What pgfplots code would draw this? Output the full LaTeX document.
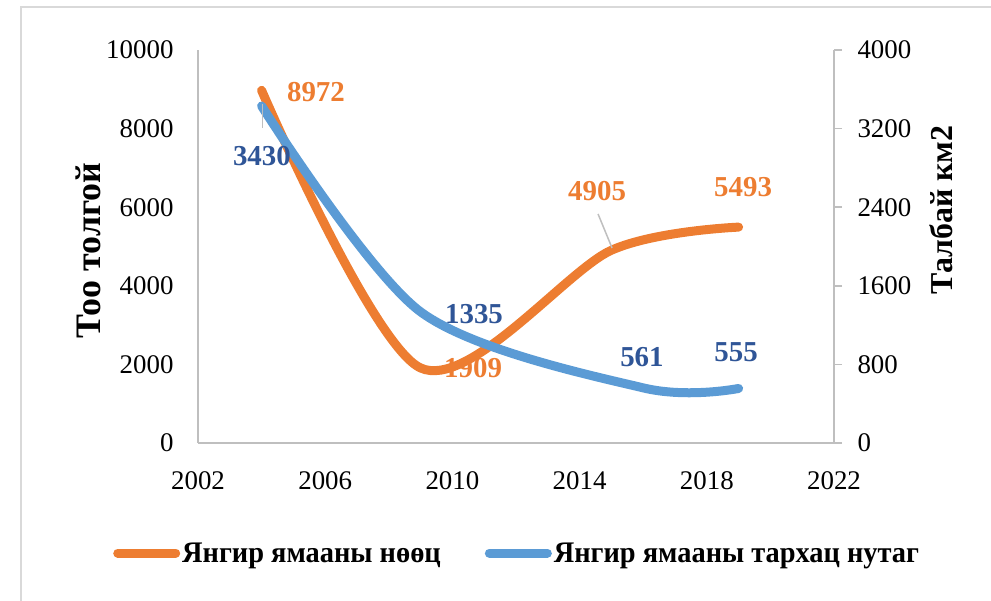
\documentclass[border=0pt]{standalone}
\usepackage{pgfplots}
\pgfplotsset{compat=1.18}
\usepackage{fontspec}
\setmainfont{Liberation Serif}
\usepackage{graphicx}
\definecolor{orng}{HTML}{ED7D31}
\definecolor{blu}{HTML}{5B9BD5}
\definecolor{dblu}{HTML}{2F5597}
\definecolor{axgray}{HTML}{BFBFBF}
\definecolor{frgray}{HTML}{D9D9D9}
\newcommand{\tickfont}{\fontsize{27}{30}\selectfont}
\newcommand{\lblfont}{\fontsize{29}{32}\selectfont\bfseries}
\newcommand{\titfontL}{\fontsize{36}{40}\selectfont\bfseries}
\newcommand{\titfontR}{\fontsize{32}{36}\selectfont\bfseries}
\newcommand{\legfont}{\fontsize{30}{34}\selectfont\bfseries}
\begin{document}
\begin{tikzpicture}[x=1bp,y=1bp]
\useasboundingbox (0,0) rectangle (991,601);
\draw[frgray, line width=2bp] (21,0) -- (21,594) -- (991,594);
\begin{axis}[
  at={(198bp,158bp)}, anchor=origin,
  scale only axis, width=636bp, height=393bp,
  xmin=2002, xmax=2022, ymin=0, ymax=10000,
  xtick={2002,2006,2010,2014,2018,2022},
  ytick={0,2000,4000,6000,8000,10000},
  axis x line*=bottom, axis y line*=left,
  axis line style={axgray, line width=1.5bp, -},
  major tick length=0pt,
  scaled ticks=false,
  /pgf/number format/1000 sep={},
  /pgf/number format/assume math mode=true,
  ticklabel style={font=\tickfont},
  yticklabel style={xshift=-21bp},
  xticklabel style={yshift=-25bp},
  ylabel={Тоо толгой},
  ylabel style={font=\titfontL, at={(axis description cs:-0.173,0.49)}, anchor=center},
  clip=false,
]
\addplot[orng, line width=9bp, smooth, line cap=round] coordinates {(2004,8972) (2009,1909) (2015,4905) (2019,5493)};
\node[orng, font=\lblfont] at (axis cs:2005.71,8931) {8972};
\node[orng, font=\lblfont] at (axis cs:2010.65,1908) {1909};
\node[orng, font=\lblfont] at (axis cs:2014.55,6412) {4905};
\node[orng, font=\lblfont] at (axis cs:2019.14,6514) {5493};
\draw[axgray, line width=1.5bp] (axis cs:2014.58,5827) -- (axis cs:2015.02,4962);
\end{axis}
\begin{axis}[
  at={(198bp,158bp)}, anchor=origin,
  scale only axis, width=636bp, height=393bp,
  xmin=2002, xmax=2022, ymin=0, ymax=4000,
  ytick={0,800,1600,2400,3200,4000},
  axis x line=none, axis y line*=right,
  axis line style={axgray, line width=1.5bp, -},
  tick align=outside, major tick length=8bp,
  tick style={axgray, line width=1.5bp},
  scaled ticks=false,
  /pgf/number format/1000 sep={},
  /pgf/number format/assume math mode=true,
  ticklabel style={font=\tickfont},
  yticklabel style={xshift=12bp},
  ylabel={Талбай км2},
  ylabel style={font=\titfontR, at={(axis description cs:1.168,0.593)}, anchor=center},
  clip=false,
  legend style={at={(axis description cs:-0.1336,-0.28)}, anchor=west, draw=none, fill=none,
    legend columns=2, font=\legfont, inner sep=0pt,
    /tikz/every even column/.append style={column sep=42bp}},
  legend cell align=left,
  legend image code/.code={\draw[#1] (0bp,0bp) -- (58bp,0bp);},
]
\addlegendimage{orng, line width=9bp, line cap=round}
\addlegendentry{\scalebox{0.95}[1]{Янгир ямааны нөөц}}
\addplot[blu, line width=9bp, smooth, line cap=round] coordinates {(2004,3430) (2009,1335) (2016,561) (2019,555)};
\addlegendentry{\scalebox{0.95}[1]{Янгир ямааны тархац нутаг}}
\draw[axgray, line width=1.5bp] (axis cs:2004.03,3450) -- (axis cs:2004.03,3206);
\node[dblu, font=\lblfont] at (axis cs:2004.01,2921) {3430};
\node[dblu, font=\lblfont] at (axis cs:2010.68,1313) {1335};
\node[dblu, font=\lblfont] at (axis cs:2015.96,875) {561};
\node[dblu, font=\lblfont] at (axis cs:2018.92,926) {555};
\end{axis}
\end{tikzpicture}
\end{document}
